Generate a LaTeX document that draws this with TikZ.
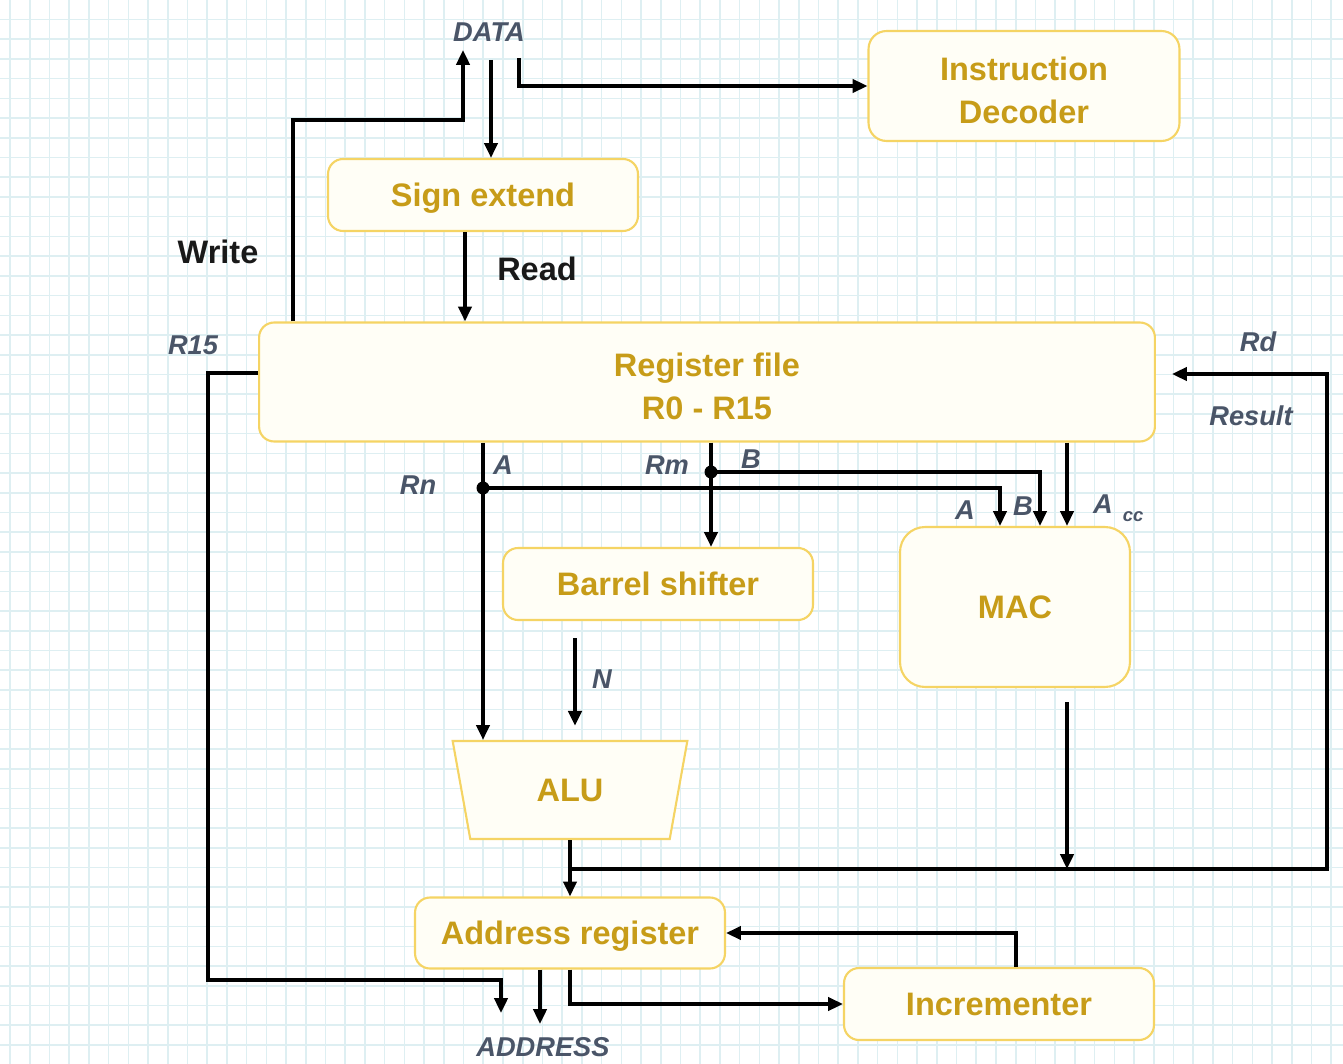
\documentclass[tikz,border=0pt]{standalone}
\usepackage{fontspec}
\setmainfont{Liberation Sans}
\usepackage{tikz}
\usetikzlibrary{shapes.geometric, arrows.meta, positioning, calc}
\definecolor{boxgold}{RGB}{199,156,24}
\definecolor{boxline}{RGB}{245,212,100}
\definecolor{boxfill}{RGB}{255,254,246}
\definecolor{slate}{RGB}{74,85,104}
\definecolor{gridcol}{RGB}{222,239,242}
\newcommand{\topstrut}{\rule{0pt}{18pt}}
\tikzstyle{block} = [rectangle, rounded corners=0.3cm, draw=boxline, line width=1.2pt, fill=boxfill, text=boxgold, align=center, text depth=0pt, font=\fontsize{18.5}{24.5}\selectfont\bfseries]
\tikzstyle{alublock} = [trapezium, trapezium stretches=true, trapezium angle=78.5, shape border rotate=180, minimum width=4.7cm, minimum height=1.96cm, draw=boxline, line width=1.2pt, fill=boxfill, text=boxgold, text depth=0pt, font=\fontsize{18.5}{24.5}\selectfont\bfseries]
\tikzstyle{lbl} = [text=slate, font=\fontsize{15.5}{18}\selectfont\bfseries\itshape]
\tikzstyle{bigl} = [text=black!90, font=\fontsize{18.5}{22}\selectfont\bfseries]
\tikzstyle{wire} = [line width=2.2pt, -{Triangle[length=8.5pt, width=7.5pt]}]
\tikzstyle{gridline} = [gridcol, line width=0.9pt]

\begin{document}
\begin{tikzpicture}[x=0.02cm, y=-0.02cm]
% background and grid
\fill[white] (0,0) rectangle (1343,1064);
\useasboundingbox (0,0) rectangle (1343,1064);
\foreach \k in {0,...,68} \draw[gridline] ({10+19.72*\k},0) -- ({10+19.72*\k},1064);
\foreach \k in {0,...,53} \draw[gridline] (0,{19.5+19.72*\k}) -- (1343,{19.5+19.72*\k});

% blocks
\node (decoder) [block, minimum width=6.22cm, minimum height=2.2cm, rounded corners=0.36cm] at (1024,86) {\topstrut Instruction\\Decoder};
\node (sign) [block, minimum width=6.2cm, minimum height=1.44cm] at (483,195) {Sign extend};
\node (rf) [block, minimum width=17.92cm, minimum height=2.38cm] at (707,382) {\topstrut Register file\\R0 - R15};
\node (barrel) [block, minimum width=6.2cm, minimum height=1.44cm] at (658,584) {Barrel shifter};
\node (mac) [block, minimum width=4.6cm, minimum height=3.2cm, rounded corners=0.5cm] at (1015,607) {MAC};
\node (alu) [alublock] at (570,790) {ALU};
\node (addr) [block, minimum width=6.2cm, minimum height=1.42cm] at (570,933) {Address register};
\node (inc) [block, minimum width=6.2cm, minimum height=1.44cm] at (999,1004) {Incrementer};

% labels
\node (datal) [lbl] at (489,32) {DATA};
\node (writel) [bigl] at (218,252) {Write};
\node (readl) [bigl] at (537,269) {Read};
\node (r15l) [lbl] at (193,345) {R15};
\node (rnl) [lbl] at (418,485) {Rn};
\node (al) [lbl] at (503,465) {A};
\node (rml) [lbl] at (667,465) {Rm};
\node (bl) [lbl] at (751,459) {B};
\node (macal) [lbl] at (965,510) {A};
\node (macbl) [lbl] at (1023,506) {B};
\node (accl) [lbl] at (1103,504) {A};
\node (ccl) [lbl, font=\fontsize{10.5}{12}\selectfont\bfseries\itshape] at (1133,517) {cc};
\node (rdl) [lbl] at (1258,342) {Rd};
\node (resl) [lbl] at (1251,416) {Result};
\node (nl) [lbl] at (602,679) {N};
\node (addressl) [lbl] at (543,1047) {ADDRESS};

% free ends and bends
\coordinate (wbend) at (293,120);
\coordinate (wtop) at (463,50);
\coordinate (dtop) at (491,60);
\coordinate (itop) at (519,58);
\coordinate (rdx) at (465,0);
\coordinate (r15turn) at (208,980);
\coordinate (r15end) at (501,1013);
\coordinate (addrend) at (540,1024);
\coordinate (incx) at (1016,0);
\coordinate (busr) at (1327,869);
\coordinate (rdin) at (1172,374);
\coordinate (macout) at (1067,702);
\coordinate (rn) at (483,488);
\coordinate (rm) at (711,472);
\coordinate (macax) at (1000,0);
\coordinate (macbx) at (1040,0);
\coordinate (accx) at (1067,0);
\coordinate (ntop) at (575,638);

% connectors
\draw [wire] (rf.north -| wbend) |- (wtop |- wbend) -- (wtop);
\draw [wire] (dtop) -- (dtop |- sign.north);
\draw [wire] (itop) |- (decoder.west);
\draw [wire] (sign.south -| rdx) -- (rf.north -| rdx);
\draw [wire] ([yshift=5pt]rf.west) -| (r15turn) -| (r15end);
\draw [wire] (addr.south -| addrend) -- (addrend);
\draw [wire] (addr.south -| alu.south) |- (inc.west);
\draw [wire] (inc.north -| incx) |- (addr.east);
\draw [wire] (alu.south) -- (addr.north);
\draw [wire] (alu.south |- busr) -- (busr) |- (rdin);
\draw [wire] (macout) -- (macout |- busr);
\draw [wire] (rf.south -| rn) -- (alu.north -| rn);
\draw [wire] (rn) -| (mac.north -| macax);
\draw [wire] (rf.south -| rm) -- (barrel.north -| rm);
\draw [wire] (rm) -| (mac.north -| macbx);
\draw [wire] (rf.south -| accx) -- (mac.north -| accx);
\draw [wire, shorten >=8pt] (ntop) -- (alu.north -| ntop);
\fill (rn) circle (6.5);
\fill (rm) circle (6.5);
\end{tikzpicture}
\end{document}
